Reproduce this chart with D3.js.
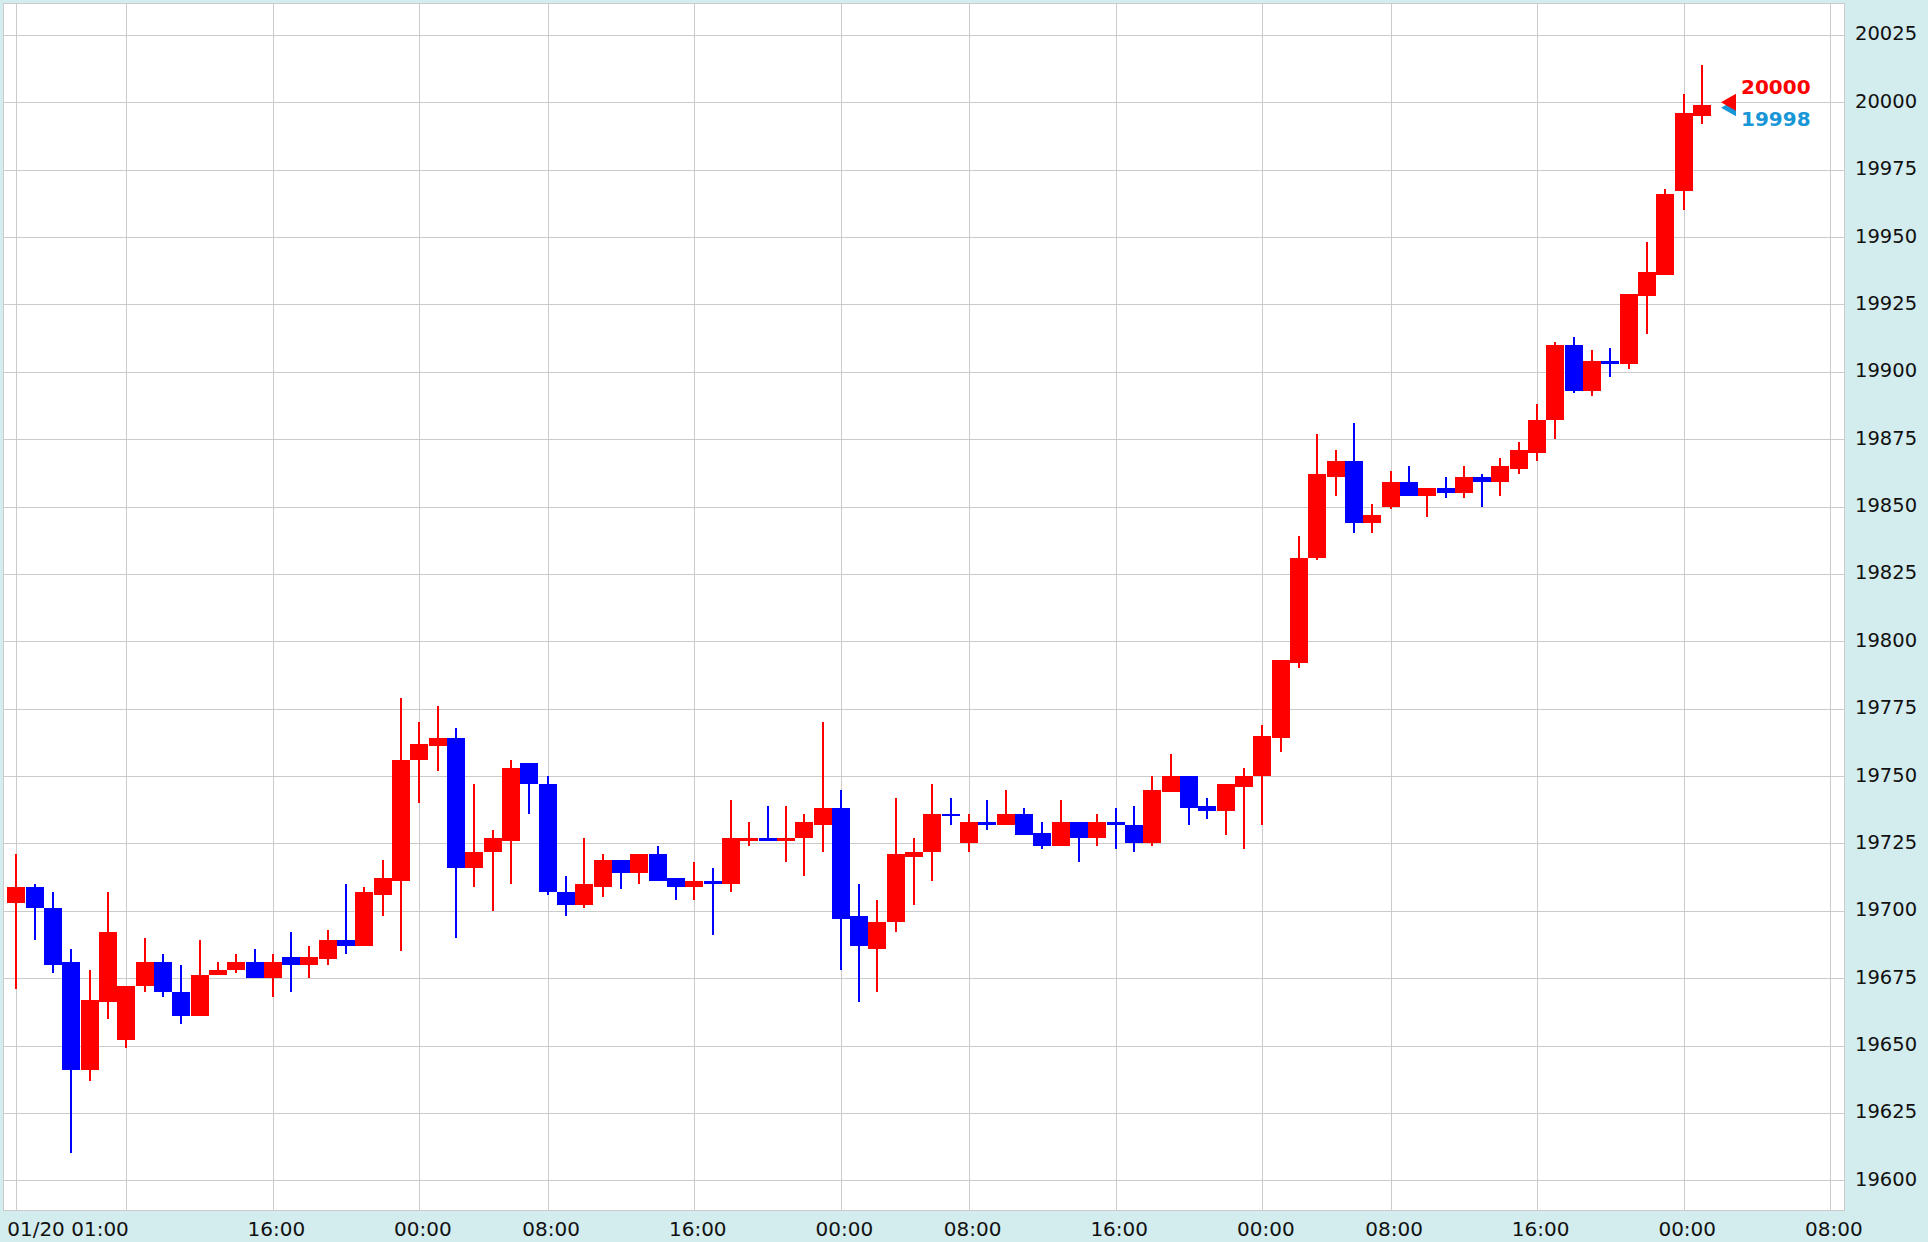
<!DOCTYPE html>
<html>
<head>
<meta charset="utf-8">
<title>Hourly candles</title>
<script src="https://d3js.org/d3.v7.min.js"></script>
<style>
  html, body { margin: 0; padding: 0; background: #d3ecee; }
  svg { display: block; font-family: "DejaVu Sans", Verdana, sans-serif; }
  .grid line { stroke: #cbcbcb; stroke-width: 1; shape-rendering: crispEdges; }
  .axis path { display: none; }
  .axis text { fill: #111; }
</style>
</head>
<body>
<div class="js-chart"></div>
<script>
;(function() {
  'use strict';

  // Hourly candles, one entry per bar.
  var opens = [
    19703, 19709, 19701, 19681, 19641, 19666, 19652, 19672, 19681, 19670,
    19661, 19676, 19678, 19681, 19675, 19683, 19680, 19682, 19689, 19687,
    19706, 19711, 19756, 19761, 19764, 19716, 19722, 19726, 19755, 19747,
    19707, 19702, 19709, 19719, 19714, 19721, 19712, 19709, 19711, 19710,
    19726, 19727, 19726, 19727, 19732, 19738, 19698, 19686, 19696, 19720,
    19722, 19736, 19725, 19733, 19732, 19736, 19729, 19724, 19733, 19727,
    19733, 19732, 19725, 19744, 19750, 19739, 19737, 19746, 19750, 19764,
    19792, 19831, 19861, 19867, 19844, 19850, 19859, 19854, 19857, 19855,
    19861, 19859, 19864, 19870, 19882, 19910, 19893, 19904, 19903, 19928,
    19936, 19967, 19995
  ];
  var highs = [
    19721, 19710, 19707, 19686, 19678, 19707, 19672, 19690, 19684, 19680,
    19689, 19681, 19684, 19686, 19684, 19692, 19687, 19693, 19710, 19709,
    19719, 19779, 19770, 19776, 19768, 19747, 19730, 19756, 19755, 19750,
    19713, 19727, 19721, 19719, 19721, 19724, 19712, 19718, 19716, 19741,
    19733, 19739, 19739, 19736, 19770, 19745, 19710, 19704, 19742, 19727,
    19747, 19742, 19736, 19741, 19745, 19738, 19733, 19741, 19733, 19736,
    19738, 19739, 19750, 19758, 19750, 19742, 19747, 19753, 19769, 19793,
    19839, 19877, 19871, 19881, 19851, 19863, 19865, 19857, 19861, 19865,
    19862, 19868, 19874, 19888, 19911, 19913, 19908, 19909, 19929, 19948,
    19968, 20003, 20014
  ];
  var lows = [
    19671, 19689, 19677, 19610, 19637, 19660, 19649, 19670, 19668, 19658,
    19661, 19676, 19677, 19675, 19668, 19670, 19675, 19680, 19684, 19687,
    19698, 19685, 19740, 19752, 19690, 19709, 19700, 19710, 19736, 19706,
    19698, 19701, 19705, 19708, 19710, 19711, 19704, 19704, 19691, 19707,
    19724, 19726, 19718, 19713, 19722, 19678, 19666, 19670, 19692, 19702,
    19711, 19732, 19722, 19730, 19732, 19728, 19723, 19724, 19718, 19724,
    19723, 19722, 19724, 19744, 19732, 19734, 19728, 19723, 19732, 19759,
    19790, 19830, 19854, 19840, 19840, 19849, 19854, 19846, 19853, 19853,
    19850, 19854, 19862, 19867, 19875, 19892, 19891, 19898, 19901, 19914,
    19936, 19960, 19992
  ];
  var closes = [
    19709, 19701, 19680, 19641, 19667, 19692, 19672, 19681, 19670, 19661,
    19676, 19678, 19681, 19675, 19681, 19680, 19683, 19689, 19687, 19707,
    19712, 19756, 19762, 19764, 19716, 19722, 19727, 19753, 19747, 19707,
    19702, 19710, 19719, 19714, 19721, 19711, 19709, 19711, 19710, 19727,
    19727, 19726, 19727, 19733, 19738, 19697, 19687, 19696, 19721, 19722,
    19736, 19735, 19733, 19732, 19736, 19728, 19724, 19733, 19727, 19733,
    19732, 19725, 19745, 19750, 19738, 19737, 19747, 19750, 19765, 19793,
    19831, 19862, 19867, 19844, 19847, 19859, 19854, 19857, 19855, 19861,
    19859, 19865, 19871, 19882, 19910, 19893, 19904, 19903, 19929, 19937,
    19966, 19996, 19999
  ];

  // Time axis: bar index of each vertical grid line and its label.
  var timeTickIndex = [0, 6, 14, 22, 29, 37, 45, 52, 60, 68, 75, 83, 91, 99];
  var timeTickLabels = ['01/20 01:00', '', '16:00', '00:00', '08:00', '16:00',
                        '00:00', '08:00', '16:00', '00:00', '08:00', '16:00',
                        '00:00', '08:00'];

  // Price axis.
  var priceTicks = [19600, 19625, 19650, 19675, 19700, 19725, 19750, 19775,
                    19800, 19825, 19850, 19875, 19900, 19925, 19950, 19975,
                    20000, 20025];

  // Latest quotes shown at the right edge.
  var askPrice = 20000;
  var bidPrice = 19998;

  var totalW = 1928,
      totalH = 1242;
  var plot = {left: 3, top: 3, right: 1844, bottom: 1210};

  var upColor = '#ff0000',
      downColor = '#0000ff',
      bidColor = '#1896d6';

  var data = opens.map(function(o, i) {
    return {i: i, o: o, h: highs[i], l: lows[i], c: closes[i]};
  });

  var svg = d3.select('.js-chart')
              .append('svg')
              .attr('width', totalW)
              .attr('height', totalH);

  svg.append('rect')
      .attr('width', totalW)
      .attr('height', totalH)
      .attr('fill', '#d3ecee');

  svg.append('rect')
      .attr('x', plot.left + 0.5)
      .attr('y', plot.top + 0.5)
      .attr('width', plot.right - plot.left)
      .attr('height', plot.bottom - plot.top)
      .attr('fill', '#fff')
      .attr('stroke', '#cbcbcb')
      .attr('shape-rendering', 'crispEdges');

  var xScale = d3.scaleLinear()
                  .domain([0, 99])
                  .range([16.3, 1830.3]);

  var yScale = d3.scaleLinear()
                  .domain([19600, 20025])
                  .range([1180.3, 34.9]);

  function px(v) { return Math.round(v); }

  // Grid lines.
  var grid = svg.append('g').classed('grid', true);

  grid.selectAll('.hgrid')
      .data(priceTicks)
      .enter()
    .append('line')
      .classed('hgrid', true)
      .attr('x1', plot.left)
      .attr('x2', plot.right)
      .attr('y1', function(d) { return px(yScale(d)) + 0.5; })
      .attr('y2', function(d) { return px(yScale(d)) + 0.5; });

  grid.selectAll('.vgrid')
      .data(timeTickIndex)
      .enter()
    .append('line')
      .classed('vgrid', true)
      .attr('y1', plot.top)
      .attr('y2', plot.bottom)
      .attr('x1', function(d) { return px(xScale(d)) + 0.5; })
      .attr('x2', function(d) { return px(xScale(d)) + 0.5; });

  // Candles.
  var candles = svg.append('g')
                    .attr('shape-rendering', 'crispEdges')
                  .selectAll('g')
                    .data(data)
                    .enter()
                  .append('g')
                    .attr('fill', function(d) {
                      return d.c >= d.o ? upColor : downColor;
                    });

  candles.append('rect')
      .attr('x', function(d) { return px(xScale(d.i)) - 1; })
      .attr('width', 2)
      .attr('y', function(d) { return px(yScale(d.h)); })
      .attr('height', function(d) {
        return Math.max(1, px(yScale(d.l)) - px(yScale(d.h)));
      });

  candles.append('rect')
      .attr('x', function(d) { return px(xScale(d.i)) - 9; })
      .attr('width', 18)
      .attr('y', function(d) { return px(yScale(Math.max(d.o, d.c))); })
      .attr('height', function(d) {
        var h = px(yScale(Math.min(d.o, d.c))) - px(yScale(Math.max(d.o, d.c)));
        return Math.max(2, h);
      });

  // Right price axis.
  var yAxis = svg.append('g')
                  .classed('axis axis-r', true)
                  .attr('transform', 'translate(' + plot.right + ',0)')
                  .call(d3.axisRight(yScale)
                          .tickValues(priceTicks)
                          .tickSize(0)
                          .tickPadding(11)
                          .tickFormat(d3.format('d')));

  yAxis.selectAll('text')
      .attr('dy', null)
      .attr('y', 5)
      .style('font-size', '19.5px')
      .style('font-family', '"DejaVu Sans", Verdana, sans-serif');

  // Bottom time axis.
  var xAxis = svg.append('g')
                  .classed('axis axis-b', true)
                  .attr('transform', 'translate(0,' + plot.bottom + ')')
                  .call(d3.axisBottom(xScale)
                          .tickValues(timeTickIndex)
                          .tickSize(0)
                          .tickPadding(0)
                          .tickFormat(function(d, i) { return timeTickLabels[i]; }));

  xAxis.selectAll('text')
      .attr('dy', null)
      .attr('y', 26)
      .attr('dx', 3)
      .style('font-size', '20px')
      .style('font-family', '"DejaVu Sans", Verdana, sans-serif');

  // The first label sits flush with the left edge.
  xAxis.selectAll('text')
      .filter(function(d, i) { return i === 0; })
      .attr('text-anchor', 'start')
      .attr('dx', 6.7 - xScale(0));

  // Latest bid / ask markers.
  var markX = 1721;

  function marker(price, colour) {
    var y = yScale(price);
    svg.append('path')
        .attr('d', 'M' + markX + ',' + y +
                   'L' + (markX + 15) + ',' + (y - 8.5) +
                   'L' + (markX + 15) + ',' + (y + 8.5) + 'Z')
        .attr('fill', colour);
  }

  marker(bidPrice, bidColor);
  marker(askPrice, upColor);

  svg.append('text')
      .attr('x', 1741)
      .attr('y', yScale(askPrice) - 8.3)
      .attr('fill', upColor)
      .style('font-size', '20px')
      .style('font-weight', 'bold')
      .text(d3.format('d')(askPrice));

  svg.append('text')
      .attr('x', 1741)
      .attr('y', yScale(bidPrice) + 18.6)
      .attr('fill', bidColor)
      .style('font-size', '20px')
      .style('font-weight', 'bold')
      .text(d3.format('d')(bidPrice));

}());
</script>
</body>
</html>
